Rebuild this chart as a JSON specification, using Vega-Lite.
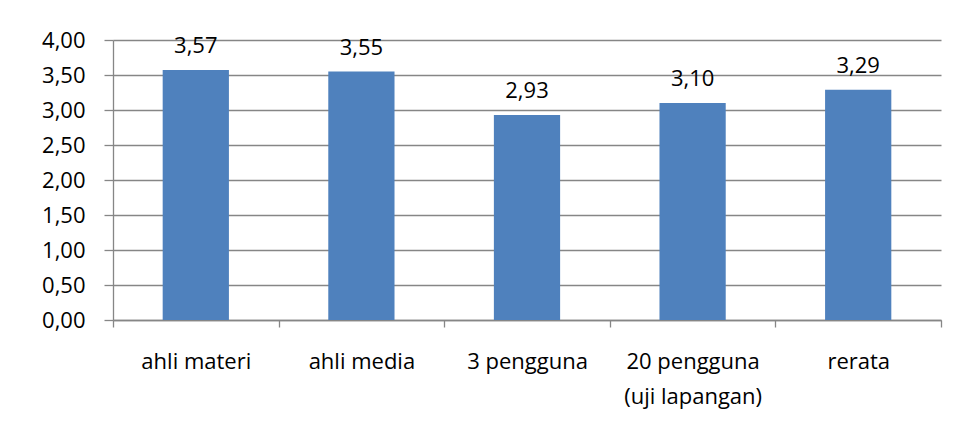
{
  "$schema": "https://vega.github.io/schema/vega-lite/v6.json",
  "width": 828,
  "height": 280,
  "autosize": {"type": "none"},
  "padding": {"left": 113, "top": 40, "right": 17, "bottom": 115},
  "background": "white",
  "config": {
    "locale": {"number": {"decimal": ",", "thousands": ".", "grouping": [3], "currency": ["", ""]}},
    "view": {"stroke": null},
    "font": "Open Sans",
    "axis": {"labelFont": "Open Sans", "labelFontSize": 22, "labelColor": "#000000", "domainColor": "#868686", "tickColor": "#868686", "gridColor": "#868686", "domainWidth": 1.3, "tickWidth": 1.3, "gridWidth": 1.3}
  },
  "data": {
    "values": [
      {"kategori": "ahli materi", "nilai": 3.57},
      {"kategori": "ahli media", "nilai": 3.55},
      {"kategori": "3 pengguna", "nilai": 2.93},
      {"kategori": "20 pengguna|(uji lapangan)", "nilai": 3.10},
      {"kategori": "rerata", "nilai": 3.29}
    ]
  },
  "encoding": {
    "x": {
      "field": "kategori",
      "type": "nominal",
      "sort": null,
      "scale": {"paddingInner": 0, "paddingOuter": 0},
      "axis": {
        "title": null,
        "labelAngle": 0,
        "tickBand": "extent",
        "tickSize": 7,
        "labelPadding": 24,
        "labelLineHeight": 35,
        "labelExpr": "split(datum.label, '|')",
        "grid": false
      }
    },
    "y": {
      "field": "nilai",
      "type": "quantitative",
      "scale": {"domain": [0, 4], "nice": false},
      "axis": {
        "title": null,
        "values": [0, 0.5, 1, 1.5, 2, 2.5, 3, 3.5, 4],
        "format": ".2f",
        "tickSize": 9,
        "labelPadding": 19,
        "grid": true
      }
    }
  },
  "layer": [
    {"mark": {"type": "bar", "color": "#4F81BD", "width": {"band": 0.4}}},
    {
      "mark": {"type": "text", "fontSize": 22, "color": "#000000", "baseline": "alphabetic", "dy": -17},
      "encoding": {"text": {"field": "nilai", "type": "quantitative", "format": ".2f"}}
    }
  ]
}
